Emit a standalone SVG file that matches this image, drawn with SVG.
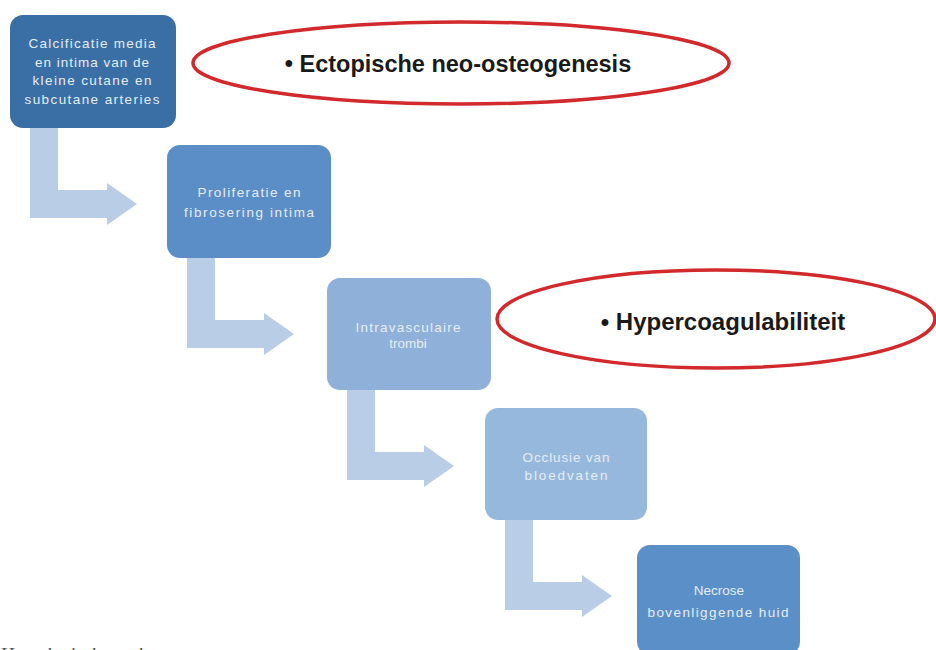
<svg xmlns="http://www.w3.org/2000/svg" width="936" height="650" viewBox="0 0 936 650">
<style>
.box{stroke:none}
.bt{font-family:"Liberation Sans",Arial,sans-serif;font-size:13.5px;fill:#e4edf7;text-anchor:middle}
.arrow{fill:#b9cde6;stroke:none}
.oval{fill:#ffffff;stroke:#d22a2c;stroke-width:3.5}
.ot{font-family:"Liberation Sans",Arial,sans-serif;font-weight:bold;fill:#1a1a1a;text-anchor:middle}
.cap{font-family:"Liberation Serif","Times New Roman",serif;font-style:italic;font-size:19px;fill:#555555}
</style>
<rect width="936" height="650" fill="#ffffff"/>
<g id="connectors">
<path class="arrow" d="M30,128 L58,128 L58,190 L107,190 L107,183 L137,204 L107,225 L107,218 L30,218 Z"/>
<path class="arrow" transform="translate(157,130)" d="M30,128 L58,128 L58,190 L107,190 L107,183 L137,204 L107,225 L107,218 L30,218 Z"/>
<path class="arrow" transform="translate(317,262)" d="M30,128 L58,128 L58,190 L107,190 L107,183 L137,204 L107,225 L107,218 L30,218 Z"/>
<path class="arrow" transform="translate(475,392)" d="M30,128 L58,128 L58,190 L107,190 L107,183 L137,204 L107,225 L107,218 L30,218 Z"/>
</g>
<g id="node1">
<rect class="box" x="10" y="15" width="166" height="113" rx="13" fill="#3a6fa5"/>
<text class="bt" x="92" y="48" textLength="127">Calcificatie media</text>
<text class="bt" x="92" y="67" textLength="114">en intima van de</text>
<text class="bt" x="92" y="85" textLength="119">kleine cutane en</text>
<text class="bt" x="92" y="104" textLength="135">subcutane arteries</text>
</g>
<g id="node2">
<rect class="box" x="167" y="145" width="164" height="113" rx="13" fill="#5b8ec6"/>
<text class="bt" x="249" y="197" textLength="103">Proliferatie en</text>
<text class="bt" x="249" y="217" textLength="130">fibrosering  intima</text>
</g>
<g id="node3">
<rect class="box" x="327" y="278" width="164" height="112" rx="13" fill="#8eb0d9"/>
<text class="bt" x="408" y="332" textLength="105">Intravasculaire</text>
<text class="bt" x="408" y="348">trombi</text>
</g>
<g id="node4">
<rect class="box" x="485" y="408" width="162" height="112" rx="13" fill="#97b8dd"/>
<text class="bt" x="566" y="462" textLength="87">Occlusie van</text>
<text class="bt" x="566" y="480" textLength="83">bloedvaten</text>
</g>
<g id="node5">
<rect class="box" x="637" y="545" width="163" height="110" rx="13" fill="#5b8fc8"/>
<text class="bt" x="719" y="595">Necrose</text>
<text class="bt" x="718" y="617" textLength="141">bovenliggende huid</text>
</g>
<g id="oval1">
<ellipse class="oval" cx="461" cy="63" rx="268" ry="41"/>
<text class="ot" x="458" y="72" font-size="23.5">• Ectopische neo-osteogenesis</text>
</g>
<g id="oval2">
<ellipse class="oval" cx="716" cy="319" rx="219" ry="49"/>
<text class="ot" x="723" y="330" font-size="24">• Hypercoagulabiliteit</text>
</g>
<text class="cap" x="0" y="661">Hypothetische pathogenese</text>
</svg>
